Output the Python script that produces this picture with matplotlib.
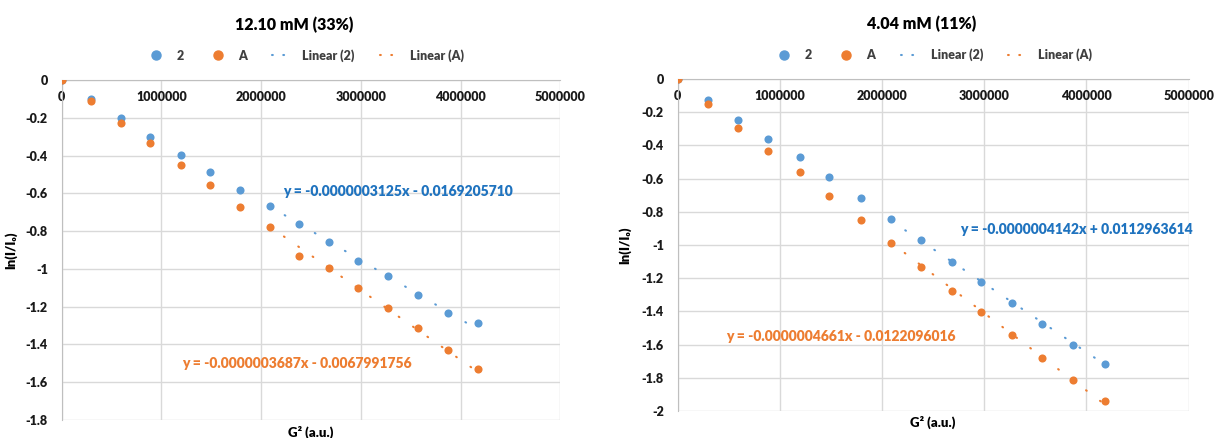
import matplotlib
matplotlib.use("Agg")
import numpy as np
import matplotlib.pyplot as plt
from matplotlib.lines import Line2D
from matplotlib.ticker import FuncFormatter

plt.rcParams['font.family'] = ['Lato', 'DejaVu Sans']
plt.rcParams['font.weight'] = 'bold'

# G^2 values (same for both runs)
g2 = [0, 295000, 592000, 888000, 1195000, 1485000, 1790000, 2085000,
      2380000, 2680000, 2970000, 3270000, 3570000, 3870000, 4180000]

# 12.10 mM (33%)
left_2 = [0, -0.102, -0.203, -0.300, -0.397, -0.487, -0.582, -0.667,
          -0.762, -0.859, -0.956, -1.037, -1.139, -1.231, -1.289]
left_A = [0, -0.111, -0.226, -0.333, -0.448, -0.556, -0.670, -0.776,
          -0.930, -0.997, -1.099, -1.208, -1.314, -1.429, -1.531]
left_fit_2 = (-0.0000003125, -0.0169205710)
left_fit_A = (-0.0000003687, -0.0067991756)

# 4.04 mM (11%)
right_2 = [0, -0.127, -0.248, -0.361, -0.467, -0.590, -0.717, -0.845,
           -0.970, -1.103, -1.225, -1.352, -1.477, -1.604, -1.714]
right_A = [0, -0.153, -0.298, -0.433, -0.560, -0.703, -0.852, -0.990,
           -1.131, -1.274, -1.406, -1.542, -1.679, -1.812, -1.941]
right_fit_2 = (-0.0000004142, 0.0112963614)
right_fit_A = (-0.0000004661, -0.0122096016)

BLUE = '#5B9BD5'
ORANGE = '#ED7D31'
BLUE_TXT = '#1F73BF'
GRID = '#D9D9D9'
DOTS = (0, (0.4, 8))
HEAVY = 800


def eq_text(fit):
    m, b = fit
    sign = '+' if b >= 0 else '-'
    return f'y = {m:.10f}x {sign} {abs(b):.10f}'


def draw(ax, y2, yA, fit2, fitA, ymin, title, title_x, leg_x,
         eq2_pos, eqA_pos, xlab_y):
    x = np.array(g2, dtype=float)
    ax.scatter(x, y2, s=34, color=BLUE, zorder=3, linewidths=0)
    ax.scatter(x, yA, s=34, color=ORANGE, zorder=3, linewidths=0)

    # trendlines, sparse round dots
    xs = np.linspace(x[7], x[-1], 50)
    ax.plot(xs, fit2[0] * xs + fit2[1], color=BLUE, lw=1.5, ls=DOTS,
            dash_capstyle='round', zorder=2)
    ax.plot(xs, fitA[0] * xs + fitA[1], color=ORANGE, lw=1.5, ls=DOTS,
            dash_capstyle='round', zorder=2)

    ax.set_xlim(0, 5000000)
    ax.set_ylim(ymin, 0)
    ax.set_xticks(np.arange(0, 5000001, 1000000))
    ax.set_yticks(np.arange(ymin, 0.001, 0.2))
    ax.xaxis.set_major_formatter(FuncFormatter(lambda v, p: f'{v:.0f}'))
    ax.yaxis.set_major_formatter(FuncFormatter(lambda v, p: f'{round(v, 1) + 0.0:g}'))
    ax.grid(True, color=GRID, lw=1)
    ax.set_axisbelow(True)

    for s in ['top', 'right']:
        ax.spines[s].set_visible(False)
    ax.spines['bottom'].set_position(('data', 0))
    ax.spines['bottom'].set_color('#BFBFBF')
    ax.spines['left'].set_color('#BFBFBF')
    ax.tick_params(length=0, labelsize=9, colors='#1A1A1A', pad=8)
    ax.tick_params(axis='y', pad=10)
    for lab in ax.get_xticklabels() + ax.get_yticklabels():
        lab.set_fontweight(HEAVY)

    bb = ax.get_position()
    fig.text((bb.x0 + bb.x1) / 2, xlab_y, 'G² (a.u.)', fontsize=9.5,
             fontweight=HEAVY, ha='center', va='center')
    ax.set_ylabel('ln(I/I₀)', fontsize=9.5, fontweight=HEAVY)
    ax.yaxis.set_label_coords(-0.09, 0.5)

    ax.text(eq2_pos[0], eq2_pos[1], eq_text(fit2), color=BLUE_TXT,
            fontsize=10, fontweight=HEAVY, ha='left', va='center')
    ax.text(eqA_pos[0], eqA_pos[1], eq_text(fitA), color=ORANGE,
            fontsize=10, fontweight=HEAVY, ha='left', va='center')

    handles = [
        Line2D([0], [0], marker='o', ls='none', color=BLUE, markersize=6.5),
        Line2D([0], [0], marker='o', ls='none', color=ORANGE, markersize=6.5),
        Line2D([0], [0], color=BLUE, lw=1.5, ls=(0, (0.4, 5)), dash_capstyle='round'),
        Line2D([0], [0], color=ORANGE, lw=1.5, ls=(0, (0.4, 5)), dash_capstyle='round'),
    ]
    leg = ax.legend(handles, ['2', 'A', 'Linear (2)', 'Linear (A)'], ncol=4,
                    loc='lower center', bbox_to_anchor=(leg_x, 1.02), frameon=False,
                    fontsize=9, columnspacing=2.0, handletextpad=0.9, handlelength=1.5)
    for t in leg.get_texts():
        t.set_color('#404040')
        t.set_fontweight(HEAVY)
    ax.set_title(title, fontsize=11.5, fontweight=HEAVY, pad=36, x=title_x)


fig = plt.figure(figsize=(12.14, 4.38), dpi=100)
ax1 = fig.add_axes([0.0508, 0.0411, 0.4107, 0.7763])
ax2 = fig.add_axes([0.5582, 0.0616, 0.4209, 0.7580])

draw(ax1, left_2, left_A, left_fit_2, left_fit_A, -1.8, '12.10 mM (33%)', 0.466, 0.488,
     (2220000, -0.59), (1210000, -1.50), 1 - 432 / 438)
draw(ax2, right_2, right_A, right_fit_2, right_fit_A, -2.0, '4.04 mM (11%)', 0.478, 0.5,
     (2760000, -0.905), (470000, -1.55), 1 - 422 / 438)

fig.savefig('out.png', dpi=100)
